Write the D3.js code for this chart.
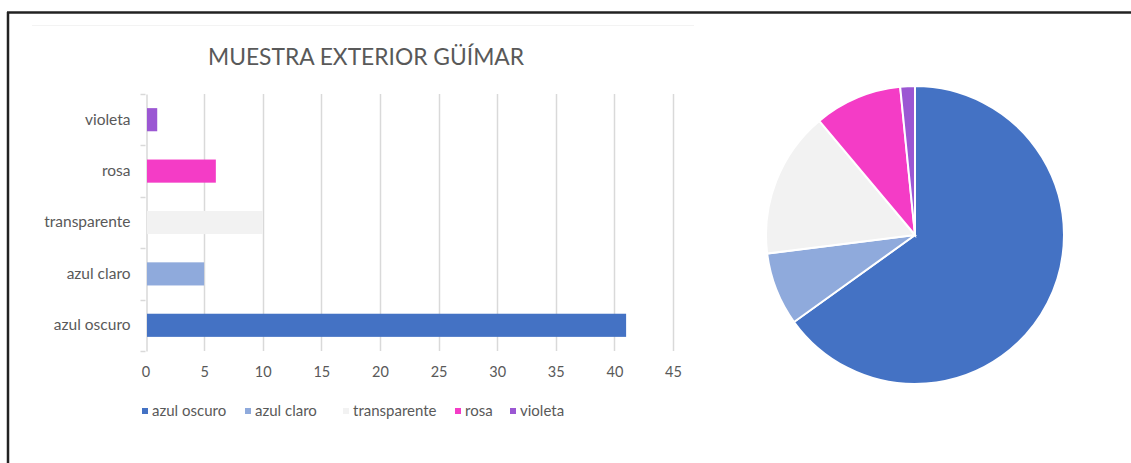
<!DOCTYPE html>
<html>
<head>
<meta charset="utf-8">
<script src="https://cdn.jsdelivr.net/npm/d3@7"></script>
<style>
  body { margin: 0; background: #fff; }
  text { font-family: Lato, "Open Sans", sans-serif; fill: #595959; }
</style>
</head>
<body>
<div id="chart"></div>
<script>
// data
let categories = ["azul oscuro", "azul claro", "transparente", "rosa", "violeta"];
let counts = [41, 5, 10, 6, 1];
let colors = ["#4472C4", "#8FAADC", "#F2F2F2", "#F43CC6", "#9B57D3"];
let xTicks = [0, 5, 10, 15, 20, 25, 30, 35, 40, 45];
let title = "MUESTRA EXTERIOR GÜÍMAR";

let svgWidth = 1131;
let svgHeight = 463;

let svg = d3.select("#chart")
  .append("svg")
  .attr("width", svgWidth)
  .attr("height", svgHeight);

//frame around the picture
svg.append("line")
  .attr("x1", 7).attr("x2", svgWidth).attr("y1", 12.5).attr("y2", 12.5)
  .attr("stroke", "#222").attr("stroke-width", 2.5);
svg.append("line")
  .attr("x1", 8).attr("x2", 8).attr("y1", 12).attr("y2", svgHeight)
  .attr("stroke", "#222").attr("stroke-width", 2.5);
//faint chart area edge
svg.append("line")
  .attr("x1", 32).attr("x2", 694).attr("y1", 25.5).attr("y2", 25.5)
  .attr("stroke", "#f3f3f3").attr("stroke-width", 1);

//title
svg.append("text")
  .attr("x", 366)
  .attr("y", 65)
  .attr("text-anchor", "middle")
  .style("font-size", "22.8px")
  .text(title);

//bar chart scales
let xScale = d3.scaleLinear()
  .domain([0, 45])
  .range([145.5, 673]);

let yScale = d3.scaleBand()
  .domain(categories)
  .range([351, 94])
  .paddingInner(0.55)
  .paddingOuter(0.275);

let plotTop = 94;
let plotBottom = 351;

//vertical gridlines
svg.append("g")
  .selectAll("line")
  .data(xTicks.slice(1))
  .join("line")
  .attr("x1", d => Math.round(xScale(d)) + 0.5)
  .attr("x2", d => Math.round(xScale(d)) + 0.5)
  .attr("y1", plotTop)
  .attr("y2", plotBottom)
  .attr("stroke", "#d9d9d9")
  .attr("stroke-width", 1.5);

//y axis
let yAxis = d3.axisLeft(yScale).tickSize(0).tickPadding(16);
let yAxisGroup = svg.append("g")
  .attr("transform", `translate(${Math.round(xScale(0)) + 0.5},0)`)
  .call(yAxis);
yAxisGroup.select(".domain").attr("stroke", "#d9d9d9").attr("stroke-width", 1.5);
yAxisGroup.selectAll("text")
  .style("font-size", "15.5px")
  .attr("fill", "#595959");

//category boundary ticks
let bounds = d3.range(0, categories.length + 1).map(i => plotBottom - i * (plotBottom - plotTop) / categories.length);
svg.append("g")
  .selectAll("line")
  .data(bounds)
  .join("line")
  .attr("x1", xScale(0) - 5)
  .attr("x2", xScale(0))
  .attr("y1", d => Math.round(d) + 0.5)
  .attr("y2", d => Math.round(d) + 0.5)
  .attr("stroke", "#d9d9d9")
  .attr("stroke-width", 1.5);

//x tick labels
let xAxis = d3.axisBottom(xScale).tickValues(xTicks).tickSize(0).tickPadding(14);
let xAxisGroup = svg.append("g")
  .attr("transform", `translate(0,${plotBottom + 2})`)
  .call(xAxis);
xAxisGroup.select(".domain").remove();
xAxisGroup.selectAll("text")
  .style("font-size", "14.5px")
  .attr("fill", "#595959");

//bars
svg.append("g")
  .selectAll("rect")
  .data(categories)
  .join("rect")
  .attr("x", xScale(0) + 1.5)
  .attr("y", d => yScale(d))
  .attr("width", (d, i) => xScale(counts[i]) - xScale(0) - 1.5)
  .attr("height", yScale.bandwidth())
  .attr("fill", (d, i) => colors[i]);

//legend
let legendX = [142, 245, 343, 455, 510];
let legend = svg.append("g")
  .selectAll("g")
  .data(categories)
  .join("g")
  .attr("transform", (d, i) => `translate(${legendX[i]},411)`);
legend.append("rect")
  .attr("x", 0).attr("y", -3)
  .attr("width", 6).attr("height", 6)
  .attr("fill", (d, i) => colors[i]);
legend.append("text")
  .attr("x", 10)
  .attr("y", 5)
  .style("font-size", "15px")
  .text(d => d);

//pie chart
let pie = d3.pie().sort(null).value(d => d);
let arc = d3.arc().innerRadius(0).outerRadius(149);

svg.append("g")
  .attr("transform", "translate(915,235)")
  .selectAll("path")
  .data(pie(counts))
  .join("path")
  .attr("d", arc)
  .attr("fill", (d, i) => colors[i])
  .attr("stroke", "#fff")
  .attr("stroke-width", 2);
</script>
</body>
</html>
